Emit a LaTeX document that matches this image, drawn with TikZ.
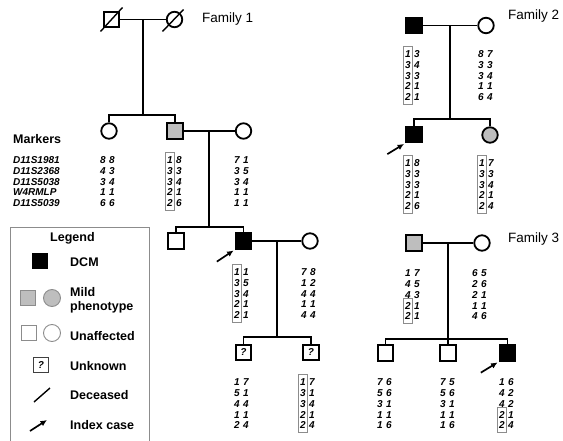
\documentclass[tikz,border=0pt]{standalone}
\usepackage{fontspec}
\setmainfont{Liberation Sans}
\usetikzlibrary{arrows.meta,calc,fit}
\definecolor{mildgray}{RGB}{190,190,190}
\definecolor{framegray}{RGB}{140,140,140}
% alleles of one person: name, x of first column, y of first row, pairs
\newcommand{\geno}[4]{%
  \foreach \a/\b [count=\i] in {#4} {
    \node[allele] (#1a\i) at (#2, #3+\i*10.8-10.8) {\a};
    \node[allele] (#1b\i) at (#2+9, #3+\i*10.8-10.8) {\b};
  }}
\begin{document}
\begin{tikzpicture}[x=1pt,y=-1pt,
    person/.style={draw, line width=1.8pt, minimum size=15.5pt, inner sep=0pt},
    male/.style={person, rectangle},
    female/.style={person, circle},
    dcm/.style={fill=black},
    mild/.style={fill=mildgray},
    unknown/.style={font=\fontsize{10}{12}\selectfont\bfseries\itshape},
    line/.style={line width=1.8pt},
    dead/.style={line width=1.4pt},
    idx/.style={line width=1.7pt, -{Latex[length=6.5pt,width=6pt]}},
    allele/.style={inner sep=0pt, text height=7.2pt, text depth=0pt, minimum width=5.6pt,
      font=\fontsize{10}{12}\selectfont\bfseries\itshape},
    markname/.style={allele, anchor=west},
    hapbox/.style={draw=framegray, line width=0.8pt, inner xsep=1.8pt, inner ysep=3.5pt},
    famlabel/.style={anchor=base west, inner sep=0pt, font=\fontsize{13.5}{16}\selectfont},
    legtext/.style={anchor=base west, inner sep=0pt, font=\fontsize{12.5}{14}\selectfont\bfseries},
    legsym/.style={draw=framegray, line width=0.9pt, minimum size=15pt, inner sep=0pt},
    frame/.style={draw=framegray, line width=0.8pt}]
\useasboundingbox (0,0) rectangle (563,441);

% Family 1
\node[male] (f1gf) at (111.5,19.5) {};
\node[female] (f1gm) at (174.5,19.5) {};
\node[female] (f1d) at (109,131) {};
\node[male, mild] (f1s) at (175,131) {};
\node[female] (f1w) at (243.5,131) {};
\node[male] (f1c1) at (176,241) {};
\node[male, dcm] (f1ix) at (243.5,241) {};
\node[female] (f1iw) at (310,241) {};
\node[male, unknown] (f1q1) at (243.5,352.5) {?};
\node[male, unknown] (f1q2) at (311,352.5) {?};
\node[famlabel] (fam1) at (202,23) {Family 1};

\draw[line] (f1gf) -- (f1gm);
\draw[dead] ($(f1gf)+(-11,12)$) -- ($(f1gf)+(11,-12)$);
\draw[dead] ($(f1gm)+(-12,12)$) -- ($(f1gm)+(9,-10)$);
\coordinate (f1j1) at (143,115);
\draw[line] (f1j1) -- (f1j1 |- f1gf);
\draw[line] (f1d) |- (f1j1) -| (f1s);
\draw[line] (f1s) -- (f1w);
\coordinate (f1j2) at (209,227);
\draw[line] (f1j2) -- (f1j2 |- f1s);
\draw[line] (f1c1) |- (f1j2) -| (f1ix);
\draw[line] (f1ix) -- (f1iw);
\coordinate (f1j3) at (277,337);
\draw[line] (f1j3) -- (f1j3 |- f1ix);
\draw[line] (f1q1) |- (f1j3) -| (f1q2);
\coordinate (f1arr) at ($(f1ix.south west)+(-18,12)$);
\draw[idx, shorten >=1.5pt] (f1arr) -- (f1ix.south west);

% Family 2
\node[male, dcm] (f2f) at (414,25.5) {};
\node[female] (f2m) at (486,25.5) {};
\node[male, dcm] (f2s) at (414,134.5) {};
\node[female, mild] (f2d) at (490,135) {};
\node[famlabel] (fam2) at (508,20) {Family 2};

\draw[line] (f2f) -- (f2m);
\coordinate (f2j) at (450,119);
\draw[line] (f2j) -- (f2j |- f2f);
\draw[line] (f2s) |- (f2j) -| (f2d);
\coordinate (f2arr) at ($(f2s.south west)+(-18,11)$);
\draw[idx, shorten >=1.5pt] (f2arr) -- (f2s.south west);

% Family 3
\node[male, mild] (f3f) at (414,243) {};
\node[female] (f3m) at (482,243) {};
\node[male] (f3c1) at (385.5,353) {};
\node[male] (f3c2) at (448,353) {};
\node[male, dcm] (f3c3) at (507.5,353) {};
\node[famlabel] (fam3) at (508,243) {Family 3};

\draw[line] (f3f) -- (f3m);
\coordinate (f3j) at (448,339);
\draw[line] (f3c2) -- (f3c2 |- f3f);
\draw[line] (f3c1) |- (f3j) -| (f3c3);
\coordinate (f3arr) at ($(f3c3.south west)+(-18,11)$);
\draw[idx, shorten >=1.5pt] (f3arr) -- (f3c3.south west);

% markers and alleles
\node[anchor=base west, inner sep=0pt, font=\fontsize{12.5}{14}\selectfont\bfseries] (mk) at (13,144) {Markers};
\foreach \m [count=\i] in {D11S1981,D11S2368,D11S5038,W4RMLP,D11S5039}
  \node[markname] (mk\i) at (13,160+\i*10.8-10.8) {\m};

\geno{f1d}{103}{160}{8/8,4/3,3/4,1/1,6/6}
\geno{f1s}{170}{160}{1/8,3/3,3/4,2/1,2/6}
\geno{f1w}{237}{160}{7/1,3/5,3/4,1/1,1/1}
\geno{f1ix}{237}{272}{1/1,3/5,3/4,2/1,2/1}
\geno{f1iw}{304}{272}{7/8,1/2,4/4,1/1,4/4}
\geno{f1q1}{237}{382}{1/7,5/1,4/4,1/1,2/4}
\geno{f1q2}{303}{382}{1/7,3/1,3/4,2/1,2/4}
\geno{f2f}{408}{54}{1/3,3/4,3/3,2/1,2/1}
\geno{f2m}{481}{54}{8/7,3/3,3/4,1/1,6/4}
\geno{f2s}{408}{163}{1/8,3/3,3/3,2/1,2/6}
\geno{f2d}{482}{163}{1/7,3/3,3/4,2/1,2/4}
\geno{f3f}{408}{273}{1/7,4/5,4/3,2/1,2/1}
\geno{f3m}{475}{273}{6/5,2/6,2/1,1/1,4/6}
\geno{f3c1}{380}{382}{7/6,5/6,3/1,1/1,1/6}
\geno{f3c2}{443}{382}{7/5,5/6,3/1,1/1,1/6}
\geno{f3c3}{502}{382}{1/6,4/2,4/2,2/1,2/4}

\node[hapbox, fit=(f1sa1)(f1sa5)] (f1sbox) {};
\node[hapbox, fit=(f1ixa1)(f1ixa5)] (f1ixbox) {};
\node[hapbox, fit=(f1q2a1)(f1q2a5)] (f1q2box) {};
\node[hapbox, fit=(f2fa1)(f2fa5)] (f2fbox) {};
\node[hapbox, fit=(f2sa1)(f2sa5)] (f2sbox) {};
\node[hapbox, fit=(f2da1)(f2da5)] (f2dbox) {};
\node[hapbox, fit=(f3fa4)(f3fa5)] (f3fbox) {};
\node[hapbox, fit=(f3c3a4)(f3c3a5)] (f3c3box) {};

% legend
\draw[frame] (10,445) |- (149,227) -- (149,445);
\node[legtext] (lgt) at (50,242) {Legend};
\node[legsym, rectangle, draw=black, fill=black] (ldcm) at (40,261) {};
\node[legtext] (tdcm) at (70,266) {DCM};
\node[legsym, rectangle, fill=mildgray] (lmsq) at (28,298) {};
\node[legsym, circle, minimum size=17pt, fill=mildgray] (lmci) at (52,298) {};
\node[legtext] (tmild) at (70,296) {Mild};
\node[legtext] (tphen) at (70,310) {phenotype};
\node[legsym, rectangle] (lusq) at (28.5,333) {};
\node[legsym, circle, minimum size=17pt] (luci) at (52,333) {};
\node[legtext] (tunaf) at (70,340) {Unaffected};
\node[legsym, rectangle, draw=black!75, unknown] (lunk) at (41,365) {?};
\node[legtext] (tunk) at (70,370) {Unknown};
\coordinate (ld1) at (34,402);
\coordinate (ld2) at (50,388);
\draw[dead] (ld1) -- (ld2);
\node[legtext] (tdec) at (70,399) {Deceased};
\coordinate (la1) at (30,431);
\coordinate (la2) at (47,420);
\draw[idx] (la1) -- (la2);
\node[legtext] (tidx) at (70,429) {Index case};
\end{tikzpicture}
\end{document}
